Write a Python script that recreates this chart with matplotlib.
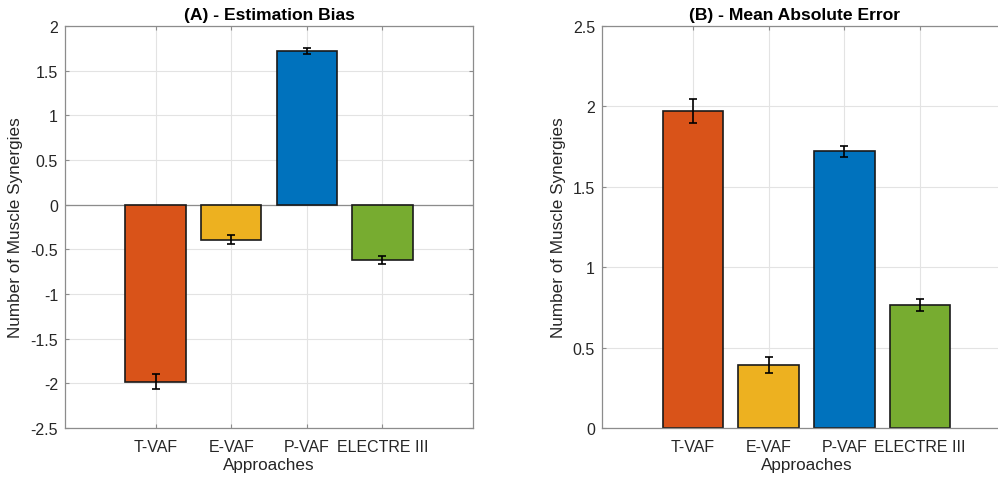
import numpy as np
import matplotlib.pyplot as plt

plt.rcParams['font.family'] = ['Liberation Sans', 'DejaVu Sans']
plt.rcParams['font.size'] = 11.5

approaches = ['T-VAF', 'E-VAF', 'P-VAF', 'ELECTRE III']
colors = ['#D95319', '#EDB120', '#0072BD', '#77AC30']

# (A) estimation bias
bias = [-1.98, -0.39, 1.72, -0.62]
bias_err = [0.08, 0.05, 0.03, 0.045]

# (B) mean absolute error
mae = [1.97, 0.39, 1.72, 0.765]
mae_err = [0.075, 0.05, 0.035, 0.037]

W, H = 998, 481
fig = plt.figure(figsize=(W / 100, H / 100), dpi=100)

ax1 = fig.add_axes([65 / W, (H - 429) / H, 408 / W, 402 / H])
ax2 = fig.add_axes([602 / W, (H - 429) / H, 409 / W, 402 / H])

x = np.arange(1, 5)
txt = '#262626'


def style(ax):
    ax.set_xlim(-0.2, 5.2)
    ax.set_xticks(x)
    ax.set_xticklabels(approaches)
    ax.grid(True, color='#e3e3e3', linewidth=0.8)
    ax.set_axisbelow(True)
    for s in ax.spines.values():
        s.set_color('#8c8c8c')
        s.set_linewidth(0.9)
    ax.tick_params(direction='in', length=3, color='#8c8c8c', labelcolor=txt,
                   top=True, right=True)
    ax.tick_params(axis='x', pad=8)
    ax.tick_params(axis='y', pad=5)
    ax.set_xlabel('Approaches', color=txt, fontsize=12.3, labelpad=2)
    ax.set_ylabel('Number of Muscle Synergies', color=txt, fontsize=12.3, labelpad=5)


ax1.bar(x, bias, width=0.8, color=colors, edgecolor='#1a1a1a', linewidth=1.2, zorder=2)
ax1.errorbar(x, bias, yerr=bias_err, fmt='none', ecolor='black', elinewidth=1.2,
             capsize=3, capthick=1.2, zorder=3)
ax1.axhline(0, color='#8c8c8c', linewidth=0.9, zorder=1)
ax1.set_ylim(-2.5, 2)
ax1.set_yticks(np.arange(-2.5, 2.01, 0.5))
ax1.set_yticklabels(['-2.5', '-2', '-1.5', '-1', '-0.5', '0', '0.5', '1', '1.5', '2'])
style(ax1)
ax1.set_title('(A) - Estimation Bias', fontweight='bold', color='black',
              fontsize=12.6, pad=5)

ax2.bar(x, mae, width=0.8, color=colors, edgecolor='#1a1a1a', linewidth=1.2, zorder=2)
ax2.errorbar(x, mae, yerr=mae_err, fmt='none', ecolor='black', elinewidth=1.2,
             capsize=3, capthick=1.2, zorder=3)
ax2.set_ylim(0, 2.5)
ax2.set_yticks(np.arange(0, 2.51, 0.5))
ax2.set_yticklabels(['0', '0.5', '1', '1.5', '2', '2.5'])
style(ax2)
ax2.set_title('(B) - Mean Absolute Error', fontweight='bold', color='black',
              fontsize=12.6, pad=5, x=0.47)

fig.savefig('out.png', dpi=100)
